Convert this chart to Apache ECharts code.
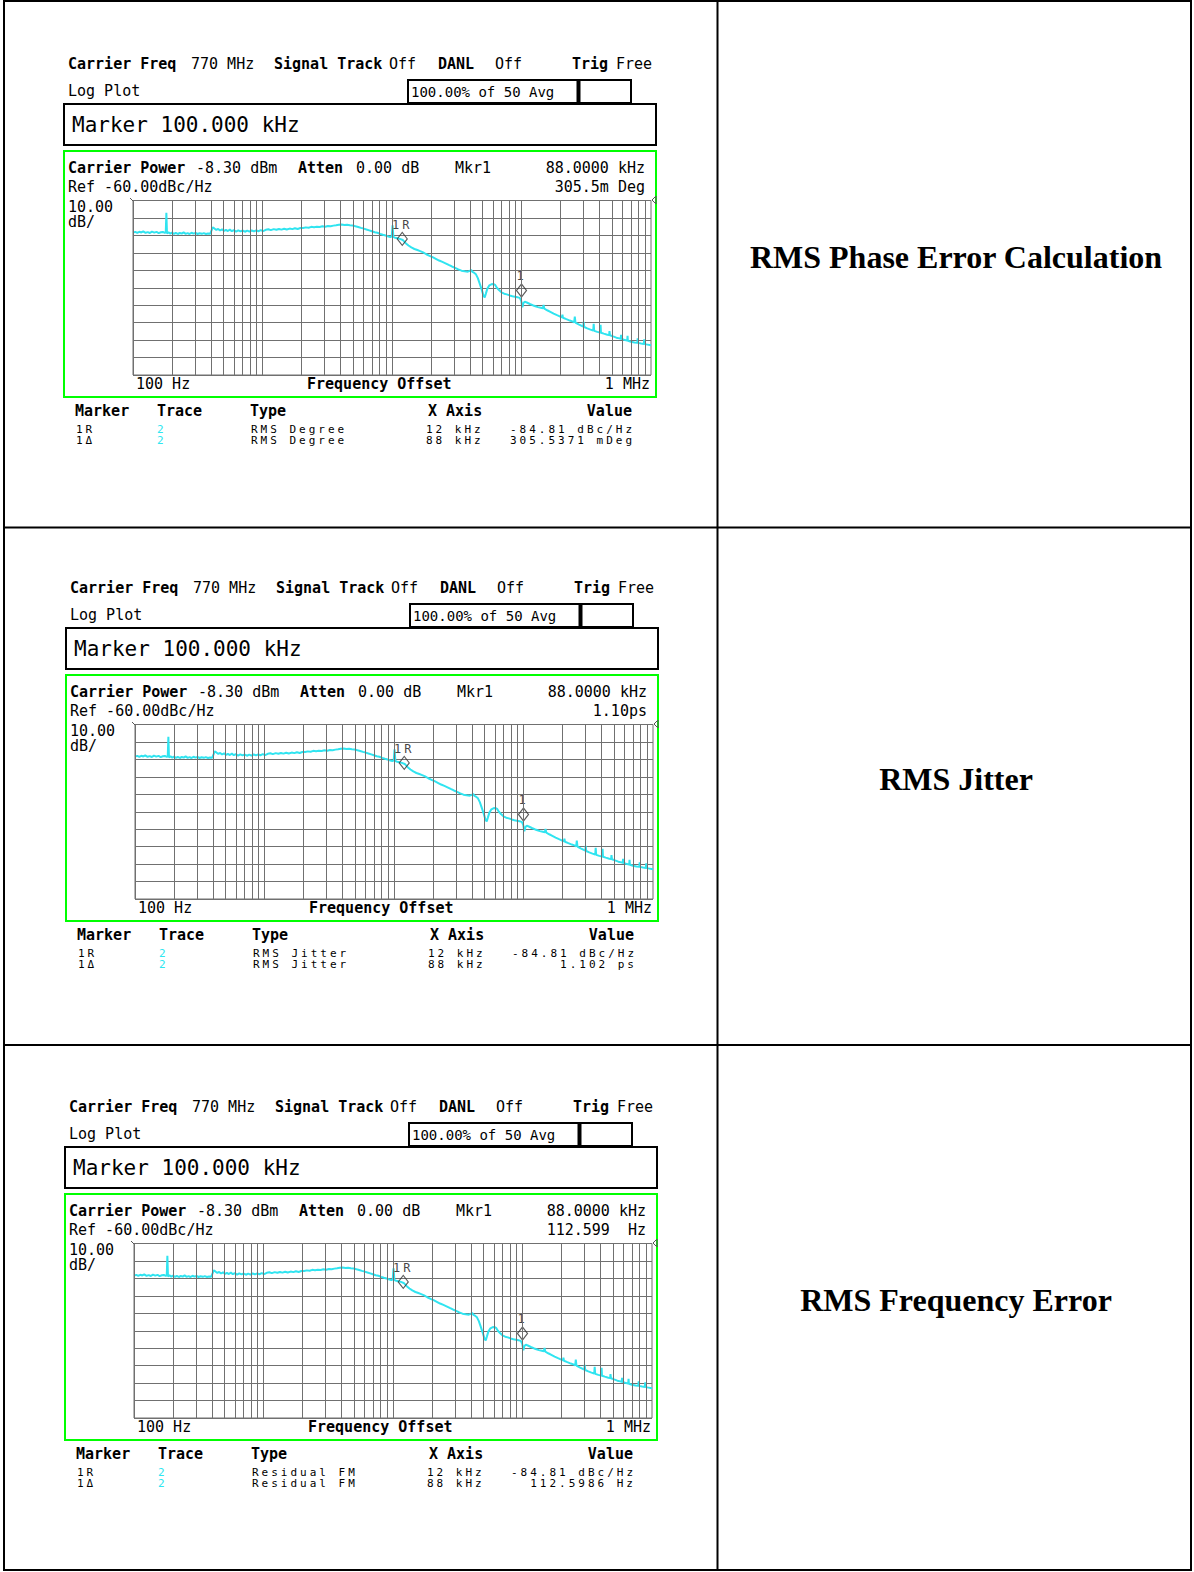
<!DOCTYPE html>
<html><head><meta charset="utf-8">
<script src="https://cdn.jsdelivr.net/npm/echarts@6/dist/echarts.min.js"></script>
<style>html,body{margin:0;padding:0;background:#fff}#c{width:1194px;height:1572px}</style>
</head><body><div id="c"></div>
<script>
// ---------- data ----------
// phase-noise trace: [offset frequency (Hz), level (dBc/Hz)]
const trace = [
 [100,-78.4],[104,-78.0],[108,-78.6],[112,-77.9],[116,-78.3],[120,-77.7],[125,-78.5],[130,-78.1],[135,-78.6],[140,-77.8],
 [146,-78.4],[152,-78.0],[158,-78.7],[164,-78.2],[170,-78.0],[176,-78.6],[179,-78.3],[181,-67.0],[183,-78.9],[188,-78.2],
 [194,-79.0],[200,-78.4],[207,-79.1],[214,-78.5],[222,-79.2],[230,-78.6],[238,-79.0],[246,-78.3],[255,-79.1],[264,-78.7],
 [273,-79.2],[283,-78.5],[293,-79.0],[304,-78.6],[315,-79.2],[327,-78.8],[340,-79.1],[352,-78.7],[366,-79.2],[380,-78.9],
 [395,-79.0],[405,-77.0],[412,-75.4],[425,-76.0],[440,-76.9],[455,-76.3],[470,-77.2],[487,-76.5],[505,-77.4],[522,-76.8],
 [540,-77.5],[560,-76.7],[580,-77.6],[600,-77.0],[625,-77.8],[650,-77.1],[676,-77.7],[704,-77.2],[732,-77.9],[762,-77.3],
 [793,-77.8],[825,-77.2],[860,-77.7],[895,-77.1],[930,-77.6],[970,-77.0],[1010,-77.6],[1060,-76.8],[1110,-76.5],[1160,-77.0],
 [1220,-76.4],[1280,-76.8],[1340,-76.3],[1400,-76.7],[1470,-76.2],[1540,-76.6],[1620,-76.1],[1700,-76.4],[1780,-75.9],[1870,-76.3],
 [1960,-75.8],[2060,-75.7],[2160,-75.4],[2270,-75.6],[2380,-75.1],[2500,-75.3],[2630,-75.0],[2760,-75.2],[2900,-74.8],[3050,-75.0],
 [3200,-74.6],[3360,-74.8],[3530,-74.4],[3700,-74.2],[3890,-73.9],[4080,-73.8],[4290,-74.0],[4500,-73.9],[4730,-74.2],[4970,-74.3],
 [5220,-74.8],[5480,-75.2],[5760,-75.7],[6050,-76.1],[6350,-76.6],[6670,-77.1],[7000,-77.6],[7350,-78.2],[7720,-78.5],[8100,-79.1],
 [8500,-79.6],[8930,-80.1],[9380,-80.6],[9700,-80.9],[9950,-80.7],[10100,-74.2],[10250,-81.0],[10600,-81.3],[11000,-81.6],[11500,-82.0],
 [12100,-82.6],[12700,-84.3],[13400,-85.8],[14100,-86.9],[14900,-87.8],[15700,-88.4],[16500,-89.0],[17400,-89.7],[18400,-90.8],[19500,-91.7],
 [20600,-92.5],[21800,-93.4],[23100,-94.4],[24500,-95.2],[25900,-96.0],[27400,-96.9],[29000,-97.8],[30700,-98.6],[32500,-99.5],[34400,-100.2],
 [36400,-100.6],[38500,-100.8],[40000,-100.3],[40800,-99.8],[41800,-100.9],[43000,-101.4],[44500,-102.3],[46000,-104.5],[47500,-107.5],[49500,-111.5],
 [51000,-114.8],[52000,-115.5],[53000,-113.5],[54500,-110.5],[56500,-108.6],[58500,-108.0],[60500,-107.8],[62500,-108.3],[64500,-110.0],[67000,-111.3],
 [70000,-112.6],[73500,-113.4],[77000,-113.8],[81000,-114.4],[85000,-114.9],[89000,-115.2],[93000,-115.5],[97000,-115.8],[99500,-117.5],[101500,-121.2],
 [103500,-118.8],[106000,-117.9],[111000,-118.6],[116000,-119.3],[122000,-120.0],[128000,-120.6],[134000,-121.1],[141000,-121.5],[146000,-121.8],[148000,-119.8],
 [150000,-122.0],[158000,-122.9],[167000,-123.8],[177000,-124.8],[188000,-125.7],[199000,-126.5],[205000,-127.0],[207000,-125.4],[209000,-127.2],[222000,-128.0],
 [236000,-128.8],[250000,-129.4],[255000,-129.8],[258000,-126.6],[261000,-130.0],[276000,-131.0],[292000,-131.9],[300000,-132.3],[302000,-129.5],[305000,-132.5],
 [322000,-133.3],[341000,-134.0],[358000,-134.5],[361000,-130.7],[364000,-134.7],[385000,-135.3],[405000,-135.7],[408000,-131.2],[411000,-135.8],[432000,-136.3],
 [460000,-136.9],[475000,-137.1],[478000,-134.8],[482000,-137.2],[510000,-137.9],[540000,-138.6],[570000,-139.0],[584000,-139.2],[587000,-137.0],[590000,-139.3],
 [620000,-139.8],[655000,-140.3],[659000,-137.6],[663000,-140.4],[700000,-140.9],[745000,-141.4],[785000,-141.5],[789000,-139.0],[793000,-141.6],[840000,-142.0],
 [880000,-142.2],[887000,-139.5],[894000,-142.3],[940000,-142.6],[1000000,-143.0]
];
const markerNames = ['1R', '1'];
const markerFreqHz = [12000, 100000];
const markerLevel = [-82.0, -111.6];
const gridDecadesHz = [100, 1000, 10000, 100000];
const gridMultipliers = [1, 2, 3, 4, 5, 6, 7, 8, 9];
const refLevel = -60, dbPerDiv = 10, divisions = 10;
const freqStart = 100, freqStop = 1000000;

const rowTitles = ['RMS Phase Error Calculation', 'RMS Jitter', 'RMS Frequency Error'];
const readouts = ['305.5m Deg', '1.10ps', '112.599  Hz'];
const markerTypes = ['RMS Degree', 'RMS Jitter', 'Residual FM'];
const refValues = ['-84.81 dBc/Hz', '-84.81 dBc/Hz', '-84.81 dBc/Hz'];
const deltaValues = ['305.5371 mDeg', '1.102 ps', '112.5986 Hz'];
const markerXAxis = ['12 kHz', '88 kHz'];

// ---------- layout ----------
const MONO = "'DejaVu Sans Mono', monospace";
const SMALL = "'DejaVu Sans Mono', smallmono, monospace";
const SMALL_LS = 3;
const OFFS = [[0, 0], [2, 524], [1, 1043]];
const TITLE_Y = [257, 779, 1300];
const GRID_COLOR = '#707070';
const TRACE_COLOR = '#30e4f0';

function txt(x, y, t, o) {
  o = o || {};
  return {
    type: 'text', x: x, y: y, silent: true, z: 10,
    style: {
      text: t, fill: o.fill || '#000', fontFamily: o.ff || MONO, fontSize: o.fs || 15,
      fontWeight: o.fw || 'normal', align: o.align || 'left', verticalAlign: 'middle',
      textAlign: o.align || 'left', textVerticalAlign: 'middle'
    }
  };
}
function rect(x, y, w, h, stroke, lw) {
  return { type: 'rect', silent: true, z: 5, shape: { x: x, y: y, width: w, height: h },
    style: { fill: 'none', stroke: stroke, lineWidth: lw } };
}
function line(x1, y1, x2, y2, stroke, lw) {
  return { type: 'line', silent: true, z: 5, shape: { x1: x1, y1: y1, x2: x2, y2: y2 },
    style: { stroke: stroke, lineWidth: lw } };
}

const graphics = [];
// outer table
graphics.push(rect(4, 1, 1187, 1569, '#000', 2));
graphics.push(line(717.5, 1, 717.5, 1570, '#000', 2));
graphics.push(line(4, 527.5, 1191, 527.5, '#000', 2));
graphics.push(line(4, 1045, 1191, 1045, '#000', 2));

const grids = [], xAxes = [], yAxes = [], series = [];
const vLines = [];
gridDecadesHz.forEach(d => gridMultipliers.forEach(m => vLines.push({ xAxis: d * m })));

for (let p = 0; p < 3; p++) {
  const dx = OFFS[p][0], dy = OFFS[p][1];
  const G = (x, y, t, o) => graphics.push(txt(x + dx, y + dy, t, o));
  // header
  G(68, 64, 'Carrier Freq', { fw: 'bold' });
  G(191, 64, '770 MHz');
  G(274, 64, 'Signal Track', { fw: 'bold' });
  G(389, 64, 'Off');
  G(438, 64, 'DANL', { fw: 'bold' });
  G(495, 64, 'Off');
  G(572, 64, 'Trig', { fw: 'bold' });
  G(616, 64, 'Free');
  G(68, 91, 'Log Plot');
  graphics.push(rect(408 + dx, 80 + dy, 223, 23, '#000', 2));
  graphics.push(line(578.5 + dx, 80 + dy, 578.5 + dx, 103 + dy, '#000', 4));
  G(411, 91.5, '100.00% of 50 Avg', { fs: 14 });
  graphics.push(rect(64 + dx, 104 + dy, 592, 41, '#000', 2));
  G(72, 125, 'Marker 100.000 kHz', { fs: 21 });
  graphics.push(rect(64 + dx, 151 + dy, 592, 246, '#00ff00', 2));
  G(68, 168, 'Carrier Power', { fw: 'bold' });
  G(196, 168, '-8.30 dBm');
  G(298, 168, 'Atten', { fw: 'bold' });
  G(356, 168, '0.00 dB');
  G(455, 168, 'Mkr1');
  G(645, 168, '88.0000 kHz', { align: 'right' });
  G(68, 187, 'Ref -60.00dBc/Hz');
  G(645, 187, readouts[p], { align: 'right' });
  G(68, 207, '10.00');
  G(68, 222, 'dB/');
  G(136, 384, '100 Hz');
  G(307, 384, 'Frequency Offset', { fw: 'bold' });
  G(650, 384, '1 MHz', { align: 'right' });
  // small pointer marks at top corners of the graticule
  graphics.push({ type: 'polygon', silent: true, z: 6,
    shape: { points: [[656 + dx, 196 + dy], [652 + dx, 200 + dy], [656 + dx, 204 + dy]] },
    style: { fill: 'none', stroke: '#555', lineWidth: 1 } });
  graphics.push(line(130 + dx, 198 + dy, 133 + dx, 201 + dy, '#555', 1));
  // marker table
  G(75, 411, 'Marker', { fw: 'bold' });
  G(157, 411, 'Trace', { fw: 'bold' });
  G(250, 411, 'Type', { fw: 'bold' });
  G(428, 411, 'X Axis', { fw: 'bold' });
  G(632, 411, 'Value', { fw: 'bold', align: 'right' });
  const S = { ff: SMALL, fs: 11 };
  const rowsY = [429, 440];
  const rowNames = ['1R', '1\u0394'];
  const rowVals = [refValues[p], deltaValues[p]];
  for (let r = 0; r < 2; r++) {
    G(76, rowsY[r], rowNames[r], S);
    G(157, rowsY[r], '2', { ff: SMALL, fs: 11, fill: '#2ee6f0' });
    G(251, rowsY[r], markerTypes[p], S);
    G(426, rowsY[r], markerXAxis[r], S);
    G(632 + SMALL_LS, rowsY[r], rowVals[r], { ff: SMALL, fs: 11, align: 'right' });
  }
  // right column title
  graphics.push(txt(956, TITLE_Y[p], rowTitles[p],
    { ff: "'Liberation Serif', 'Times New Roman', serif", fs: 32, fw: 'bold', align: 'center' }));

  // chart grid
  grids.push({ left: 133 + dx, top: 200.5 + dy, width: 518, height: 174.5, show: true,
    borderColor: GRID_COLOR, borderWidth: 1, backgroundColor: 'transparent', containLabel: false });
  xAxes.push({ type: 'log', logBase: 10, gridIndex: p, min: freqStart, max: freqStop,
    axisLine: { show: false }, axisTick: { show: false }, axisLabel: { show: false }, splitLine: { show: false } });
  yAxes.push({ type: 'value', gridIndex: p, min: refLevel - dbPerDiv * divisions, max: refLevel, interval: dbPerDiv,
    axisLine: { show: false }, axisTick: { show: false }, axisLabel: { show: false },
    splitLine: { show: true, lineStyle: { color: GRID_COLOR, width: 1 } } });
  series.push({ type: 'line', xAxisIndex: p, yAxisIndex: p, data: [], z: 1, silent: true,
    markLine: { silent: true, symbol: ['none', 'none'], animation: false, label: { show: false },
      lineStyle: { color: GRID_COLOR, width: 1, type: 'solid' }, emphasis: { disabled: true }, data: vLines } });
  series.push({ type: 'line', xAxisIndex: p, yAxisIndex: p, data: trace, z: 2, silent: true,
    showSymbol: false, symbol: 'none', sampling: null, animation: false,
    lineStyle: { color: TRACE_COLOR, width: 2 } });
  series.push({ type: 'scatter', xAxisIndex: p, yAxisIndex: p, z: 3, silent: true, animation: false,
    data: markerNames.map((n, i) => [markerFreqHz[i], markerLevel[i], n]),
    symbol: 'diamond', symbolSize: [10, 13],
    itemStyle: { color: 'rgba(255,255,255,0)', borderColor: '#333', borderWidth: 1.2 },
    label: { show: true, position: 'top', distance: 1, formatter: q => q.data[2],
      fontFamily: SMALL, fontSize: 12, color: '#111' } });
}

const chart = echarts.init(document.getElementById('c'), null, { renderer: 'svg', width: 1194, height: 1572 });
chart.setOption({
  animation: false,
  grid: grids, xAxis: xAxes, yAxis: yAxes, series: series,
  graphic: { elements: graphics }
});
function fixSpacing() {
  document.querySelectorAll('#c svg text').forEach(t => {
    const s = t.getAttribute('style') || '';
    if (s.indexOf('smallmono') >= 0 && t.style.letterSpacing !== SMALL_LS + 'px') {
      t.style.letterSpacing = SMALL_LS + 'px';
    }
  });
}
fixSpacing();
chart.on('finished', fixSpacing);
setTimeout(fixSpacing, 30);
</script></body></html>
